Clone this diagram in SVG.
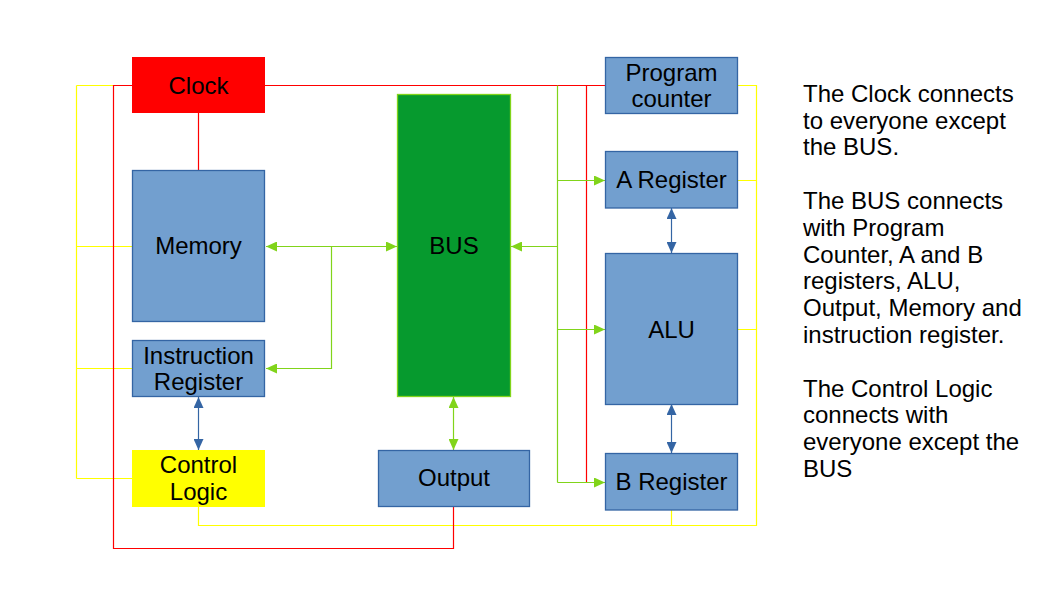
<svg xmlns="http://www.w3.org/2000/svg" width="1058" height="595" viewBox="0 0 1058 595">
<style>
text{font-family:"Liberation Sans",Arial,sans-serif;font-size:24px;fill:#000}
.c{text-anchor:middle}
.blue{fill:#729fcf;stroke:#3465a4;stroke-width:1.3}
.ln{fill:none;stroke-width:1.2}
.r{stroke:#ff0000}
.y{stroke:#ffff00}
.g{stroke:#81d41a}
.b{stroke:#3465a4}
</style>
<defs>
<marker id="ag" viewBox="0 0 11 10" refX="11" refY="5" markerWidth="11" markerHeight="10" markerUnits="userSpaceOnUse" orient="auto-start-reverse"><path d="M0,0L11,5L0,10z" fill="#81d41a"/></marker>
<marker id="ab" viewBox="0 0 11 10" refX="11" refY="5" markerWidth="11" markerHeight="10" markerUnits="userSpaceOnUse" orient="auto-start-reverse"><path d="M0,0L11,5L0,10z" fill="#3465a4"/></marker>
</defs>
<rect width="1058" height="595" fill="#fff"/>
<g id="connectors">
<path class="ln y" d="M76.5,85.5H132M76.5,85.5V478.5M76.5,246.5H132M76.5,368.5H132M76.5,478.5H132M198.5,507V525.5H756.5V85.5H737M737,180.5H756.5M737,329.5H756.5M671.5,510V525.5"/>
<path class="ln r" d="M132,85.5H113.5V548.5H453.5V507M198.5,113V170M265,85.5H605M586.5,85.5V482.5H605"/>
<path class="ln g" d="M557.5,85.5V482.5"/>
<path class="ln g" d="M266,246.5H397" marker-start="url(#ag)" marker-end="url(#ag)"/>
<path class="ln g" d="M331.5,246.5V368.5H266" marker-end="url(#ag)"/>
<path class="ln g" d="M557.5,246.5H511" marker-end="url(#ag)"/>
<path class="ln g" d="M557.5,180.5H605" marker-end="url(#ag)"/>
<path class="ln g" d="M557.5,329.5H605" marker-end="url(#ag)"/>
<path class="ln g" d="M557.5,482.5H605" marker-end="url(#ag)"/>
<path class="ln g" d="M453.5,397V450" marker-start="url(#ag)" marker-end="url(#ag)"/>
<path class="ln b" d="M198.5,397V450" marker-start="url(#ab)" marker-end="url(#ab)"/>
<path class="ln b" d="M671.5,208V253" marker-start="url(#ab)" marker-end="url(#ab)"/>
<path class="ln b" d="M671.5,404V453" marker-start="url(#ab)" marker-end="url(#ab)"/>
</g>
<g id="clock"><rect x="132" y="57" width="133" height="56" fill="#ff0000"/><text class="c" x="198.5" y="93.5">Clock</text></g>
<g id="memory"><rect class="blue" x="132.5" y="170.5" width="132" height="151"/><text class="c" x="198.5" y="254">Memory</text></g>
<g id="instruction-register"><rect class="blue" x="132.5" y="340.5" width="132" height="56"/><text class="c" x="198.5" y="363.5">Instruction</text><text class="c" x="198.5" y="389.5">Register</text></g>
<g id="control-logic"><rect x="132" y="450" width="133" height="57" fill="#ffff00"/><text class="c" x="198.5" y="472.5">Control</text><text class="c" x="198.5" y="499.5">Logic</text></g>
<g id="bus"><rect x="397.5" y="94.5" width="113" height="302" fill="#069a2e" stroke="#81d41a" stroke-width="1.3"/><text class="c" x="454" y="254">BUS</text></g>
<g id="output"><rect class="blue" x="378.5" y="450.5" width="151" height="56"/><text class="c" x="454" y="485.5">Output</text></g>
<g id="program-counter"><rect class="blue" x="605.5" y="57.5" width="132" height="56"/><text class="c" x="671.5" y="80.5">Program</text><text class="c" x="671.5" y="106.5">counter</text></g>
<g id="a-register"><rect class="blue" x="605.5" y="151.5" width="132" height="56.5"/><text class="c" x="671.5" y="188">A Register</text></g>
<g id="alu"><rect class="blue" x="605.5" y="253.5" width="132" height="151"/><text class="c" x="671.5" y="337.5">ALU</text></g>
<g id="b-register"><rect class="blue" x="605.5" y="453.5" width="132" height="56.5"/><text class="c" x="671.5" y="489.5">B Register</text></g>
<g id="notes">
<text x="803" y="101.7">The Clock connects</text>
<text x="803" y="128.5">to everyone except</text>
<text x="803" y="155.3">the BUS.</text>
<text x="803" y="208.9">The BUS connects</text>
<text x="803" y="235.7">with Program</text>
<text x="803" y="262.5">Counter, A and B</text>
<text x="803" y="289.3">registers, ALU,</text>
<text x="803" y="316.1">Output, Memory and</text>
<text x="803" y="342.9">instruction register.</text>
<text x="803" y="396.5">The Control Logic</text>
<text x="803" y="423.3">connects with</text>
<text x="803" y="450.1">everyone except the</text>
<text x="803" y="476.9">BUS</text>
</g>
</svg>
